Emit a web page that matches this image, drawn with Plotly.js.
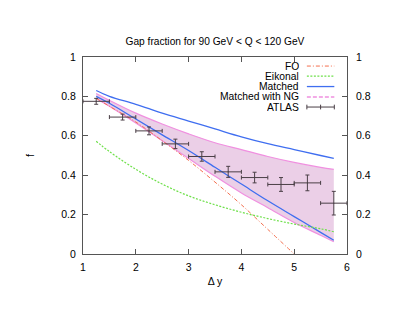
<!DOCTYPE html>
<html>
<head>
<meta charset="utf-8">
<script src="https://cdn.plot.ly/plotly-3.0.1.min.js"></script>
<style>html,body{margin:0;padding:0;background:#fff;}#chart{width:411px;height:318px;}</style>
</head>
<body>
<div id="chart"></div>
<script>
// ---- data ----
const xGrid      = [1.25, 1.5, 2, 2.5, 3, 3.5, 4, 4.5, 5, 5.5, 5.75];
const matchedHi  = [0.83, 0.80, 0.76, 0.715, 0.675, 0.635, 0.595, 0.56, 0.53, 0.50, 0.485];
const matchedLo  = [0.80, 0.765, 0.685, 0.605, 0.525, 0.44, 0.355, 0.27, 0.19, 0.11, 0.07];
const ngUpper    = [0.815, 0.78, 0.715, 0.66, 0.61, 0.565, 0.53, 0.495, 0.465, 0.44, 0.43];
const ngLower    = [0.79, 0.75, 0.665, 0.575, 0.485, 0.395, 0.31, 0.235, 0.16, 0.095, 0.062];
const eikonal    = [0.572, 0.52, 0.43, 0.355, 0.295, 0.25, 0.212, 0.18, 0.152, 0.128, 0.113];
const foX        = [1.25, 1.5, 2, 2.5, 3, 3.5, 4, 4.5, 5];
const foY        = [0.79, 0.75, 0.67, 0.575, 0.475, 0.365, 0.25, 0.125, 0.0];
const atlasX     = [1.25, 1.75, 2.25, 2.75, 3.25, 3.75, 4.25, 4.75, 5.25, 5.75];
const atlasY     = [0.775, 0.695, 0.625, 0.559, 0.495, 0.417, 0.388, 0.353, 0.361, 0.258];
const atlasErrY  = [0.015, 0.015, 0.02, 0.024, 0.024, 0.028, 0.027, 0.035, 0.04, 0.06];
const atlasErrX  = [0.25, 0.25, 0.25, 0.25, 0.25, 0.25, 0.25, 0.25, 0.25, 0.25];
const yTicks     = [0, 0.2, 0.4, 0.6, 0.8, 1];
const yTickText  = ["0", "0.2", "0.4", "0.6", "0.8", "1"];
const xTicks     = [1, 2, 3, 4, 5, 6];
const legendLabels = ["FO", "Eikonal", "Matched", "Matched with NG", "ATLAS"];

const FONT = 'Liberation Sans, Arial, sans-serif';
const C = {fo:'#f4704f', eik:'#6ee04a', blue:'#3f6ef0', ng:'#f090e0', fill:'rgb(235,207,231)', atlas:'#4a3f46', frame:'#555555'};

const traces = [
  {x:xGrid, y:ngLower, mode:'lines', line:{color:C.ng, width:1.2, shape:'spline'}, showlegend:false, hoverinfo:'skip'},
  {x:xGrid, y:ngUpper, mode:'lines', fill:'tonexty', fillcolor:C.fill, line:{color:C.ng, width:1.2, shape:'spline'}, name:legendLabels[3], showlegend:false},
  {x:xGrid, y:eikonal, mode:'lines', line:{color:C.eik, width:1.2, dash:'2px,1.5px', shape:'spline'}, name:legendLabels[1], showlegend:false, yaxis:'y2'},
  {x:foX, y:foY, mode:'lines', line:{color:C.fo, width:1, dash:'4px,2px,1px,2px', shape:'spline'}, name:legendLabels[0], showlegend:false},
  {x:xGrid, y:matchedHi, mode:'lines', line:{color:C.blue, width:1.3, shape:'spline'}, name:legendLabels[2], showlegend:false},
  {x:xGrid, y:matchedLo, mode:'lines', line:{color:C.blue, width:1.3, shape:'spline'}, name:legendLabels[2], showlegend:false},
  {x:atlasX, y:atlasY, mode:'markers', marker:{size:1, color:C.atlas}, name:legendLabels[4], showlegend:false,
   error_y:{type:'data', array:atlasErrY, color:C.atlas, thickness:1, width:2},
   error_x:{type:'data', array:atlasErrX, color:C.atlas, thickness:1, width:2}}
];

// custom gnuplot-style legend (text right-aligned, sample line to its right)
const legStyles = [
  {color:C.fo, dash:'4px,2px,1px,2px', width:1},
  {color:C.eik, dash:'2px,1.5px', width:1.3},
  {color:C.blue, dash:'solid', width:1.3},
  {color:C.ng, dash:'4px,2px', width:1.3},
  {color:C.atlas, dash:'solid', width:1}
];
const legY = [0.954, 0.903, 0.850, 0.797, 0.746];
const annotations = [], shapes = [];
legendLabels.forEach((lab, i) => {
  annotations.push({xref:'paper', yref:'paper', x:0.822, y:legY[i], xanchor:'right', yanchor:'middle', text:lab, showarrow:false,
    height:9, valign:'middle', borderpad:0,
    font:{family:FONT, size:10.3, color:'#000'}});
  shapes.push({type:'line', xref:'paper', yref:'paper', x0:0.848, x1:0.952, y0:legY[i], y1:legY[i], line:legStyles[i]});
});
[0.848, 0.9, 0.952].forEach(px => shapes.push({type:'line', xref:'paper', yref:'paper', x0:px, x1:px, y0:legY[4]-0.012, y1:legY[4]+0.012, line:{color:C.atlas, width:1}}));

const axFont = {family:FONT, size:10.5, color:'#000'};
const layout = {
  width:411, height:318,
  margin:{l:83, r:64, t:57, b:64},
  paper_bgcolor:'#fff', plot_bgcolor:'#fff',
  showlegend:false,
  title:{text:'Gap fraction for 90 GeV < Q < 120 GeV', font:{family:FONT, size:10.2, color:'#000'}, x:0.523, xanchor:'center', y:0.87, yanchor:'middle'},
  xaxis:{range:[1,6], tickvals:xTicks, ticks:'inside', ticklen:5, tickcolor:C.frame, showline:true, linecolor:C.frame, linewidth:1, mirror:'ticks', showgrid:false, zeroline:false, tickfont:axFont, ticklabelstandoff:3,
    title:{text:'Δ y', font:axFont, standoff:6}},
  yaxis:{range:[0,1], tickvals:yTicks, ticktext:yTickText, ticks:'inside', ticklen:5, tickcolor:C.frame, showline:true, linecolor:C.frame, linewidth:1, mirror:'ticks', showgrid:false, zeroline:false, tickfont:axFont, ticklabelstandoff:4,
    title:{text:'f', font:axFont, standoff:24}},
  yaxis2:{range:[0,1], overlaying:'y', side:'right', tickvals:yTicks, ticktext:yTickText, ticks:'inside', ticklen:5, tickcolor:C.frame, showgrid:false, zeroline:false, showline:false, tickfont:axFont, ticklabelstandoff:8},
  annotations:annotations, shapes:shapes
};
Plotly.newPlot('chart', traces, layout, {displayModeBar:false, staticPlot:true});
</script>
</body>
</html>
